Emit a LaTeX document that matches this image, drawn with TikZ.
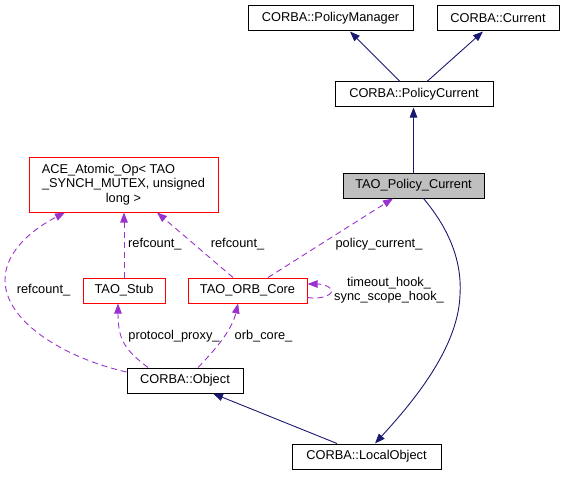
\documentclass[tikz,border=0pt]{standalone}
\usepackage{fontspec}
\setmainfont{Liberation Sans}
\usetikzlibrary{arrows.meta,calc}
\definecolor{navy}{RGB}{25,25,112}
\definecolor{usecol}{RGB}{154,50,205}
\definecolor{boxred}{RGB}{255,0,0}
\definecolor{boxgray}{RGB}{191,191,191}
\definecolor{edgeblack}{RGB}{0,0,0}
\begin{document}
\begin{tikzpicture}[x=1pt,y=-1pt,
  every node/.style={font=\fontsize{12.8}{14.5}\selectfont, inner sep=0pt},
  cls/.style={draw=edgeblack, line width=1pt, fill=white, minimum height=25pt, align=center},
  redcls/.style={cls, draw=boxred},
  curcls/.style={cls, fill=boxgray},
  inh/.style={draw=navy, line width=0.9pt, -{Triangle[length=10pt,width=7.5pt,fill=navy]}},
  usage/.style={draw=usecol, line width=0.9pt, dash pattern=on 6pt off 4pt, -{Triangle[length=10pt,width=7.5pt,fill=usecol]}},
  lbl/.style={text=black}
]
\useasboundingbox (0,0) rectangle (564,476);

% nodes
\node[cls, minimum width=165pt] (pm) at (330.5,18.5) {CORBA::PolicyManager};
\node[cls, minimum width=122pt] (cur) at (498,18.5) {CORBA::Current};
\node[cls, minimum width=158pt] (pc) at (414,94.5) {CORBA::PolicyCurrent};
\node[curcls, minimum width=141pt] (tpc) at (413.5,185.5) {TAO\_Policy\_Current};
\node[redcls, minimum width=189pt, minimum height=55pt] (ace) at (123.5,184.5)
  {ACE\_Atomic\_Op< TAO\rule{30pt}{0pt}\\\_SYNCH\_MUTEX, unsigned\\long >};
\node[redcls, minimum width=82pt] (stub) at (124,290.5) {TAO\_Stub};
\node[redcls, minimum width=119pt] (orb) at (247.5,290.5) {TAO\_ORB\_Core};
\node[cls, minimum width=116pt] (obj) at (185,380.5) {CORBA::Object};
\node[cls, minimum width=149pt] (lo) at (366.5,456.5) {CORBA::LocalObject};

% inheritance edges
\draw[inh] ($(pc.north)+(-14,0)$) -- ($(pm.south)+(19.5,0)$);
\draw[inh] ($(pc.north)+(13,0)$) -- ($(cur.south)+(-15,0)$);
\draw[inh] (tpc.north) -- (tpc.north |- pc.south);
\draw[inh] ($(lo.north)+(-29.5,0)$) -- ($(obj.south)+(28,0)$);
\draw[inh] ($(tpc.south)+(10,0)$) .. controls (450,230) and (462,262) .. (460,295)
   .. controls (458,350) and (410,405) .. ($(lo.north)+(8.5,0)$);

% usage edges
\draw[usage] (stub.north) -- (stub.north |- ace.south);
\draw[usage] ($(orb.north)+(-14.5,0)$) -- ($(ace.south)+(33.5,0)$);
\draw[usage] ($(obj.west)+(0,-8.5)$) .. controls (65,358) and (5,322) .. (5,280)
   .. controls (5,250) and (35,228) .. ($(ace.south)+(-58.5,0)$);
\draw[usage] ($(orb.north)+(20.5,0)$) -- ($(tpc.south)+(-20.5,0)$);
\draw[usage] ($(orb.east)+(0,7)$) .. controls (322,300) and (335,294) .. (331,289)
   .. controls (328,285) and (320,284) .. ($(orb.east)+(0,-6.5)$);
\draw[usage] ($(obj.north)+(-37,0)$) .. controls (125,350) and (118,340) .. ($(stub.south)+(-6,0)$);
\draw[usage] ($(obj.north)+(13,0)$) .. controls (215,350) and (232,330) .. ($(orb.south)+(-9.5,0)$);

% labels
\node[lbl, anchor=west] (l1) at (128,244) {refcount\_};
\node[lbl] (l2) at (237.5,244) {refcount\_};
\node[lbl] (l3) at (43.5,290) {refcount\_};
\node[lbl] (l4) at (379,244) {policy\_current\_};
\node[lbl, align=center] (l5) at (389,290) {timeout\_hook\_\\sync\_scope\_hook\_};
\node[lbl] (l6) at (174,336) {protocol\_proxy\_};
\node[lbl] (l7) at (263.5,336) {orb\_core\_};
\end{tikzpicture}
\end{document}
